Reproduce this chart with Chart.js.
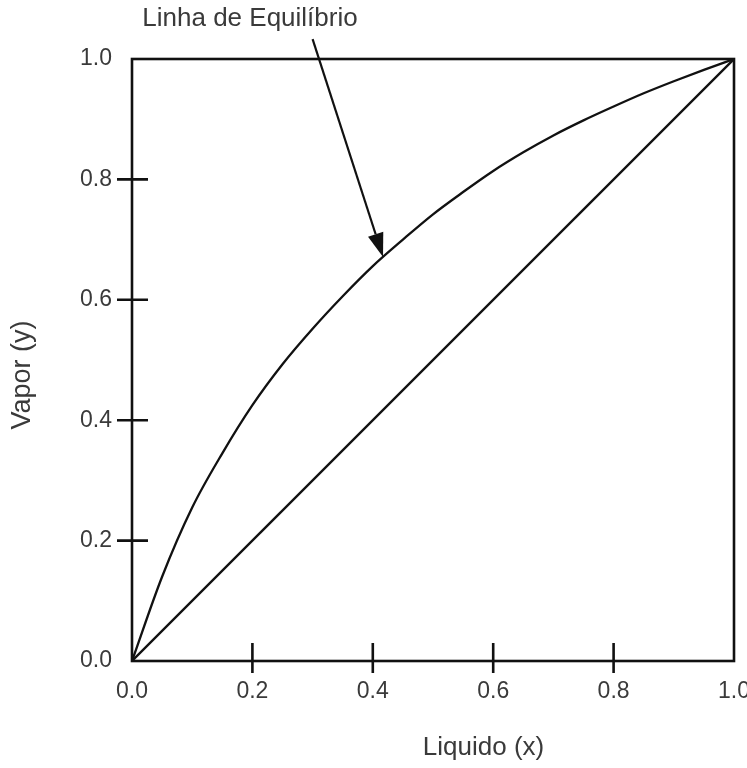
<!DOCTYPE html>
<html>
<head>
<meta charset="utf-8">
<script src="https://cdn.jsdelivr.net/npm/chart.js@4.4.1/dist/chart.umd.min.js"></script>
<style>
  html, body { margin: 0; padding: 0; background: #fff; }
  #wrap { width: 747px; height: 768px; }
</style>
</head>
<body>
<div id="wrap"><canvas id="mccabe"></canvas></div>
<script>
// liquid mole fraction (x) and vapour mole fraction (y) along the equilibrium curve
const liquidX = [0, 0.05, 0.1, 0.15, 0.2, 0.25, 0.3, 0.35, 0.4, 0.45, 0.5,
                 0.55, 0.6, 0.65, 0.7, 0.75, 0.8, 0.85, 0.9, 0.95, 1.0];
const vaporY  = [0, 0.14, 0.255, 0.345, 0.425, 0.493, 0.552, 0.606, 0.656, 0.70, 0.742,
                 0.779, 0.814, 0.845, 0.873, 0.898, 0.921, 0.943, 0.963, 0.982, 1.0];
// 45° reference line y = x
const diagonalX = [0, 1];
const diagonalY = [0, 1];
const tickValues = [0, 0.2, 0.4, 0.6, 0.8, 1.0];
const innerTicks = [0.2, 0.4, 0.6, 0.8];

const calloutText = 'Linha de Equilíbrio';
const calloutFrom = { x: 0.300, y: 1.033 };
const calloutTo = { x: 0.417, y: 0.671 };

const FONT = '"Liberation Sans", Arial, sans-serif';
const INK = '#111';
const LABEL = '#3a3a3a';

const toPoints = (xs, ys) => xs.map((x, i) => ({ x: x, y: ys[i] }));

// frame, tick marks crossing the axes, axis titles and the arrow callout
const frameAndNotes = {
    id: 'frameAndNotes',
    afterDraw(chart) {
        const { ctx, chartArea: a, scales } = chart;
        const sx = scales.x, sy = scales.y;
        ctx.save();
        ctx.strokeStyle = INK;
        ctx.lineWidth = 2.6;
        ctx.strokeRect(a.left, a.top, a.right - a.left, a.bottom - a.top);

        ctx.beginPath();
        innerTicks.forEach(v => {
            const px = sx.getPixelForValue(v);
            ctx.moveTo(px, a.bottom - 18);
            ctx.lineTo(px, a.bottom + 12);
            const py = sy.getPixelForValue(v);
            ctx.moveTo(a.left - 15, py);
            ctx.lineTo(a.left + 16, py);
        });
        ctx.stroke();

        // arrow pointing at the equilibrium curve
        const x0 = sx.getPixelForValue(calloutFrom.x), y0 = sy.getPixelForValue(calloutFrom.y);
        const x1 = sx.getPixelForValue(calloutTo.x), y1 = sy.getPixelForValue(calloutTo.y);
        const ang = Math.atan2(y1 - y0, x1 - x0);
        const headLen = 24, headHalf = 8;
        const bx = x1 - headLen * Math.cos(ang), by = y1 - headLen * Math.sin(ang);
        ctx.lineWidth = 2.2;
        ctx.beginPath();
        ctx.moveTo(x0, y0);
        ctx.lineTo(bx, by);
        ctx.stroke();
        ctx.fillStyle = INK;
        ctx.beginPath();
        ctx.moveTo(x1, y1);
        ctx.lineTo(bx + headHalf * Math.sin(ang), by - headHalf * Math.cos(ang));
        ctx.lineTo(bx - headHalf * Math.sin(ang), by + headHalf * Math.cos(ang));
        ctx.closePath();
        ctx.fill();

        ctx.fillStyle = LABEL;
        ctx.font = '26px ' + FONT;
        ctx.textAlign = 'center';
        ctx.textBaseline = 'middle';
        ctx.fillText(calloutText, sx.getPixelForValue(0.196), 19);

        ctx.fillText('Liquido (x)', sx.getPixelForValue(0.584), 748);
        ctx.font = '27px ' + FONT;
        ctx.translate(23, sy.getPixelForValue(0.475));
        ctx.rotate(-Math.PI / 2);
        ctx.fillText('Vapor (y)', 0, 0);
        ctx.restore();
    }
};

// keep the plot box fixed: no extra room reserved for the end labels
const noEdgePadding = scale => {
    scale.paddingLeft = 0;
    scale.paddingRight = 0;
    scale.paddingTop = 0;
    scale.paddingBottom = 0;
};

const axisBase = {
    type: 'linear',
    min: 0,
    max: 1,
    grid: { display: false, drawTicks: false },
    border: { display: false },
    afterBuildTicks: scale => {
        scale.ticks = tickValues.map(v => ({ value: v }));
    }
};

new Chart(document.getElementById('mccabe'), {
    type: 'scatter',
    data: {
        datasets: [
            {
                label: 'Equilíbrio',
                data: toPoints(liquidX, vaporY),
                showLine: true,
                cubicInterpolationMode: 'monotone',
                borderColor: INK,
                borderWidth: 2.3,
                pointRadius: 0
            },
            {
                label: 'y = x',
                data: toPoints(diagonalX, diagonalY),
                showLine: true,
                borderColor: INK,
                borderWidth: 2.3,
                pointRadius: 0
            }
        ]
    },
    options: {
        responsive: true,
        maintainAspectRatio: false,
        animation: false,
        layout: { padding: { top: 59, right: 13, left: 0, bottom: 0 } },
        scales: {
            x: Object.assign({}, axisBase, {
                position: 'bottom',
                ticks: {
                    padding: 17,
                    color: LABEL,
                    font: { family: FONT, size: 23 },
                    maxRotation: 0,
                    autoSkip: false,
                    callback: v => v.toFixed(1)
                },
                afterFit: scale => { scale.height = 107; noEdgePadding(scale); }
            }),
            y: Object.assign({}, axisBase, {
                position: 'left',
                ticks: {
                    padding: 20,
                    color: LABEL,
                    font: { family: FONT, size: 23 },
                    autoSkip: false,
                    callback: v => v.toFixed(1)
                },
                afterFit: scale => { scale.width = 132; noEdgePadding(scale); }
            })
        },
        plugins: {
            legend: { display: false },
            tooltip: { enabled: false }
        }
    },
    plugins: [frameAndNotes]
});
</script>
</body>
</html>
